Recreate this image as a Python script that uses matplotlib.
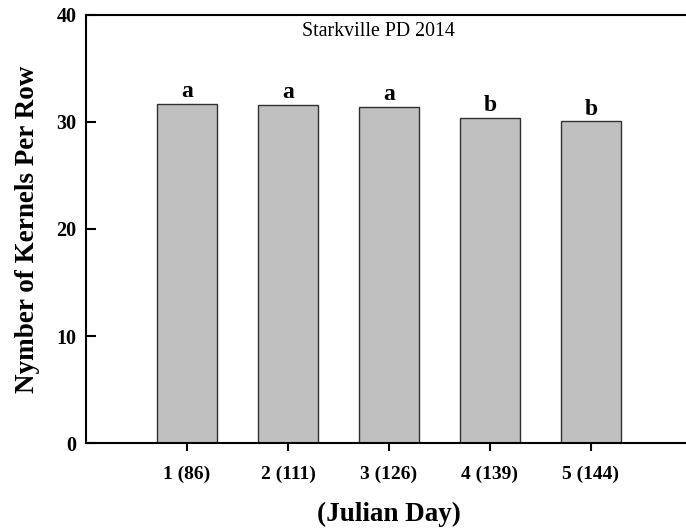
import matplotlib
matplotlib.use("Agg")
import matplotlib.pyplot as plt
import numpy as np

plt.rcParams['font.family'] = ['Liberation Serif', 'DejaVu Serif']

# data
plant_dates = ['1 (86)', '2 (111)', '3 (126)', '4 (139)', '5 (144)']
kernels = [31.7, 31.6, 31.4, 30.4, 30.05]
letters = ['a', 'a', 'a', 'b', 'b']

fig = plt.figure(figsize=(6.86, 5.31), dpi=100)
ax = fig.add_axes([0.1254, 0.1657, 1.0087 - 0.1254, 0.9718 - 0.1657])

x = np.arange(1, len(kernels) + 1)
ax.bar(x, kernels, width=0.6, color='#c0c0c0', edgecolor='#303030', linewidth=1.0)

for xi, v, l in zip(x, kernels, letters):
    ax.text(xi, v + 0.15, l, ha='center', va='bottom', fontsize=17, fontweight='bold')

ax.set_xlim(0, 6)
ax.set_ylim(0, 40)
ax.set_xticks(x)
ax.set_xticklabels(plant_dates, fontsize=14, fontweight='bold')
ax.set_yticks([0, 10, 20, 30, 40])
ax.set_yticklabels(['0', '10', '20', '30', '40'], fontsize=14.5, fontweight='bold')
ax.tick_params(axis='y', direction='in', length=7, width=1.5, pad=7)
ax.tick_params(axis='x', direction='out', length=6, width=1.5, pad=10)

for s in ax.spines.values():
    s.set_linewidth(1.5)

ax.set_ylabel('Nymber of Kernels Per Row', fontsize=19.5, fontweight='bold', labelpad=12)
ax.set_xlabel('(Julian Day)', fontsize=19.5, fontweight='bold', labelpad=14)
ax.text(2.89, 39.3, 'Starkville PD 2014', ha='center', va='top', fontsize=14.3)

fig.savefig('out.png', dpi=100)
